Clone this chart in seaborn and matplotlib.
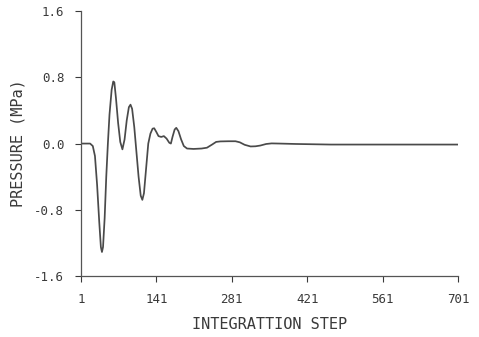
import pandas as pd
import matplotlib
matplotlib.use("Agg")
import matplotlib.pyplot as plt
import seaborn as sns

# values
steps = [1, 10, 18, 23, 27, 31, 35, 38, 40, 42, 45, 48, 51, 54, 58, 61, 63, 66,
         70, 74, 78, 82, 86, 90, 93, 96, 100, 104, 108, 112, 115, 118, 122, 126,
         130, 134, 137, 141, 145, 150, 155, 160, 165, 168, 171, 175, 178, 182,
         187, 192, 198, 210, 225, 235, 245, 252, 260, 275, 288, 296, 305, 316,
         325, 334, 345, 355, 370, 400, 465, 550, 620, 701]
pressure = [0.0, 0.0, 0.0, -0.03, -0.15, -0.5, -0.95, -1.25, -1.31, -1.25, -0.9,
            -0.4, 0.0, 0.35, 0.65, 0.75, 0.74, 0.55, 0.25, 0.02, -0.07, 0.05,
            0.28, 0.44, 0.47, 0.42, 0.2, -0.1, -0.4, -0.63, -0.68, -0.6, -0.3,
            0.0, 0.12, 0.18, 0.185, 0.14, 0.09, 0.08, 0.09, 0.06, 0.01, 0.0,
            0.08, 0.17, 0.19, 0.15, 0.05, -0.03, -0.06, -0.065, -0.06, -0.05,
            -0.01, 0.02, 0.026, 0.028, 0.028, 0.015, -0.015, -0.035, -0.033,
            -0.024, -0.005, 0.002, 0.0, -0.005, -0.012, -0.012, -0.012, -0.012]

x_ticks = [1, 141, 281, 421, 561, 701]
y_ticks = [-1.6, -0.8, 0.0, 0.8, 1.6]
y_labels = ["-1.6", "-0.8", "0.0", "0.8", "1.6"]

df = pd.DataFrame({"step": steps, "pressure": pressure})

sns.set_style("ticks")
plt.rcParams["font.family"] = ["DejaVu Sans Mono"]
ink = "#3a3a3a"

fig = plt.figure(figsize=(4.79, 3.37), dpi=100)
ax = fig.add_axes([0.169, 0.181, 0.787, 0.786])
sns.lineplot(data=df, x="step", y="pressure", ax=ax, color="#4a4a4a", linewidth=1.25)

ax.set_xlim(1, 701)
ax.set_ylim(-1.6, 1.6)
ax.set_xticks(x_ticks)
ax.set_xticklabels([str(t) for t in x_ticks])
ax.set_yticks(y_ticks)
ax.set_yticklabels(y_labels)
ax.tick_params(colors=ink, labelsize=9, length=4, width=0.8, pad=8)
for s in ["left", "bottom"]:
    ax.spines[s].set_color("#555555")
    ax.spines[s].set_linewidth(0.9)
sns.despine(ax=ax)

ax.set_xlabel("INTEGRATTION STEP", color=ink, fontsize=11, labelpad=8)
ax.set_ylabel("PRESSURE (MPa)", color=ink, fontsize=11, labelpad=6)

fig.savefig("out.png", dpi=100)
